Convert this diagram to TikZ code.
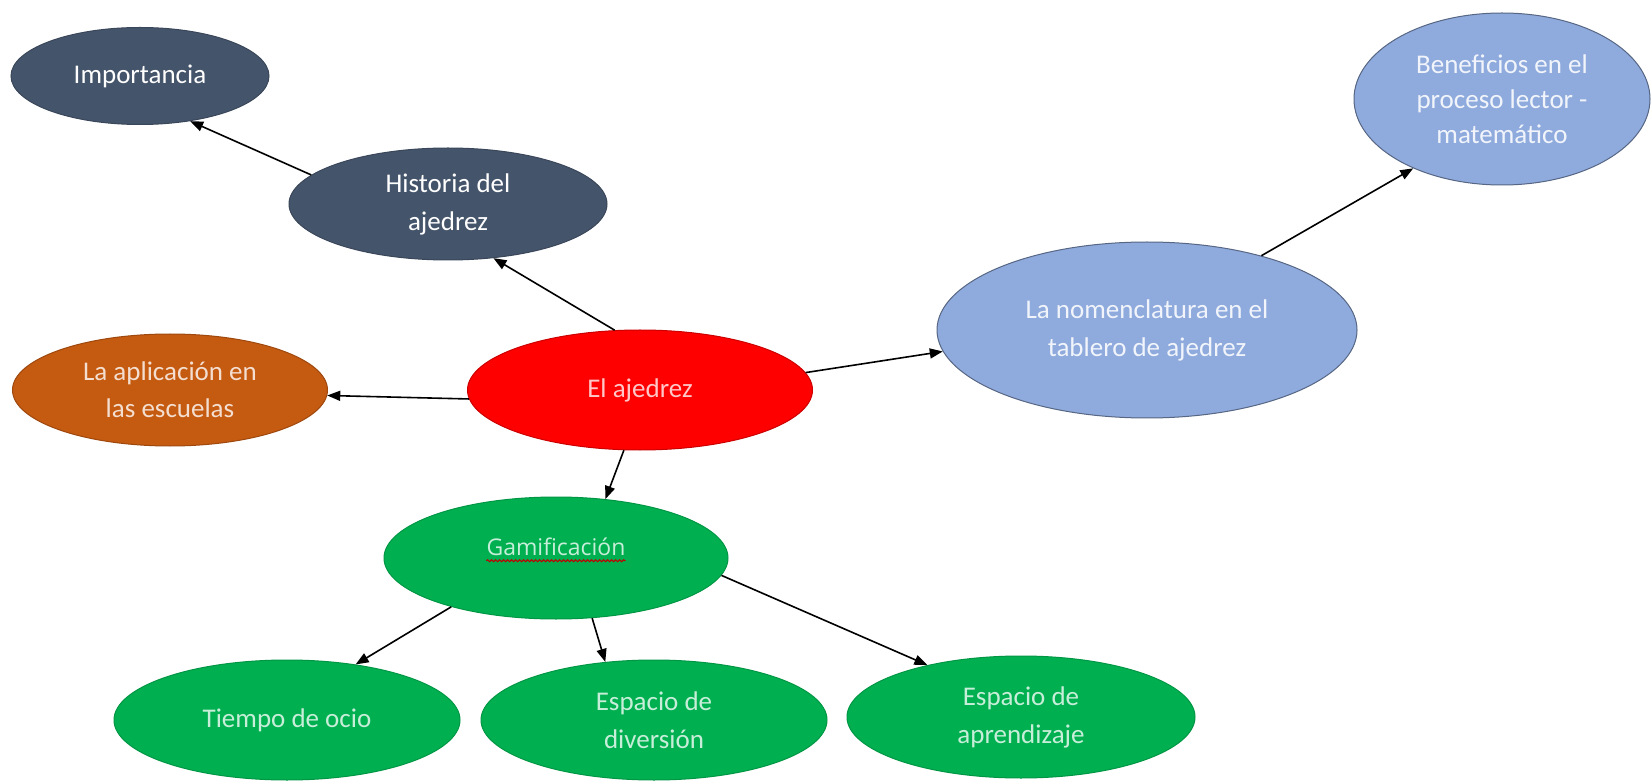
\documentclass[tikz,border=0pt]{standalone}
\usepackage{fontspec}
\setmainfont{Carlito}
\newfontfamily\gamfont{Open Sans}
\usetikzlibrary{shapes.geometric,arrows.meta,calc,decorations.pathmorphing}
\definecolor{cslate}{HTML}{44546A}
\definecolor{cred}{HTML}{FF0000}
\definecolor{corange}{HTML}{C55A11}
\definecolor{cblue}{HTML}{8FAADC}
\definecolor{cgreen}{HTML}{00B050}
\begin{document}
\begin{tikzpicture}[x=1pt,y=-1pt,
  bub/.style={ellipse, inner sep=0pt, align=center, line width=1pt},
  fs/.style={font=\fontsize{27}{#1}\selectfont},
  slatebub/.style={bub, fill=cslate, draw=cslate!85!black, text=white},
  redbub/.style={bub, fill=cred, draw=cred!80!black, text=cred!22!white},
  orangebub/.style={bub, fill=corange, draw=corange!80!black, text=corange!20!white},
  bluebub/.style={bub, fill=cblue, draw=cblue!60!black, text=cblue!12!white},
  greenbub/.style={bub, fill=cgreen, draw=cgreen!85!black, text=cgreen!22!white},
  conn/.style={-{Triangle[length=13pt,width=10pt]}, line width=1.6pt, black},
]
\useasboundingbox (0,0) rectangle (1652,783);
\fill[white] (0,0) rectangle (1652,783);

\node[slatebub, fs=36, minimum width=258pt, minimum height=97pt] (imp) at (140,76) {Importancia};
\node[slatebub, fs=38, minimum width=318pt, minimum height=112pt] (hist) at (448,204) {Historia del\\ajedrez};
\node[orangebub, fs=37, minimum width=315pt, minimum height=112pt] (apl) at (170,390) {La aplicación en\\las escuelas};
\node[redbub, fs=36, minimum width=345pt, minimum height=120pt] (ajz) at (640,390) {El ajedrez};
\node[bluebub, fs=38, minimum width=420pt, minimum height=176pt] (nom) at (1147,330) {La nomenclatura en el\\tablero de ajedrez};
\node[bluebub, fs=35, minimum width=296pt, minimum height=172pt] (ben) at (1502,99) {Beneficios en el\\proceso lector -\\matemático};
\node[greenbub, minimum width=344pt, minimum height=122pt] (gam) at (556,558) {};
\node[text=cgreen!22!white, font=\gamfont\fontsize{23}{28}\selectfont, inner sep=0pt] (gamtxt) at (556,547) {Gamificación};
\draw[red!75!black, line width=1pt, decorate, decoration={snake, amplitude=1pt, segment length=4pt}]
  ($(gamtxt.base west)+(0,5)$) -- ($(gamtxt.base east)+(0,5)$);
\node[greenbub, fs=38, minimum width=346pt, minimum height=120pt] (ocio) at (287,720) {Tiempo de ocio};
\node[greenbub, fs=38, minimum width=346pt, minimum height=120pt] (div) at (654,720) {Espacio de\\diversión};
\node[greenbub, fs=38, minimum width=348pt, minimum height=122pt] (apr) at (1021,717) {Espacio de\\aprendizaje};

\draw[conn] (hist.168) -- (imp.-42);
\draw[conn] (ajz.113) -- (hist.-50);
\draw[conn] (ajz.183) -- (apl.-2);
\draw[conn] (ajz.6) -- (nom.186);
\draw[conn] (nom.33) -- (ben.218);
\draw[conn] (ajz.255) -- (gam.50);
\draw[conn] (gam.205) -- (ocio.39);
\draw[conn] (gam.-59) -- (div.130);
\draw[conn] (gam.-6) -- (apr.151);
\end{tikzpicture}
\end{document}
